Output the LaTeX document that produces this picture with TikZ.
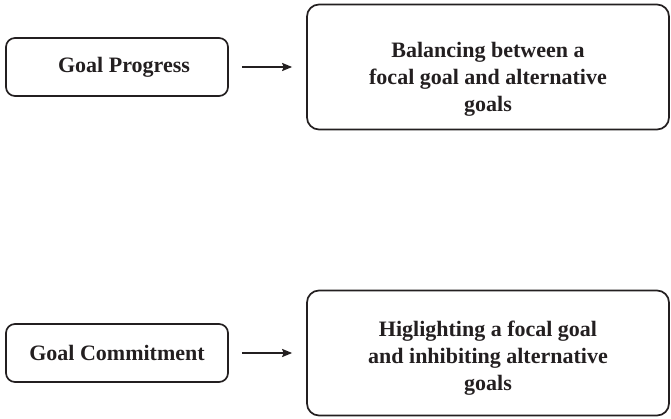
\documentclass[tikz,border=0pt]{standalone}
\usepackage{fontspec}
\setmainfont{Liberation Serif}
\usepackage{tikz}
\usetikzlibrary{arrows.meta}
\definecolor{ink}{HTML}{231F20}
\tikzstyle{arrow} = [line width=1.8pt,-{Stealth[length=10pt,width=8pt,inset=1.5pt]},draw=ink,shorten <=13pt,shorten >=14pt]
\tikzstyle{factor} = [rectangle, rounded corners=9pt, minimum width=222pt, minimum height=58pt, text centered, draw=ink, line width=1.7pt, text=ink, font=\fontsize{22}{27}\selectfont\bfseries]
\tikzstyle{effect} = [factor, rounded corners=12pt, minimum width=362pt, minimum height=125pt, align=center]

\begin{document}
\begin{tikzpicture}[x=1pt,y=-1pt,node distance=371pt]
\useasboundingbox (0,0) rectangle (671,419);

\node (progress) [factor] at (117,67) {\hspace*{14pt}Goal Progress};
\node (balance) [effect, right of=progress] {\rule{0pt}{40pt}Balancing between a\\focal goal and alternative\\goals};
\node (commit) [factor, below of=progress, node distance=286pt] {Goal Commitment};
\node (highlight) [effect, right of=commit] {\rule{0pt}{25pt}Higlighting a focal goal\\and inhibiting alternative\\goals};

\draw [arrow] (progress) -- (balance);
\draw [arrow] (commit) -- (highlight);

\end{tikzpicture}
\end{document}
